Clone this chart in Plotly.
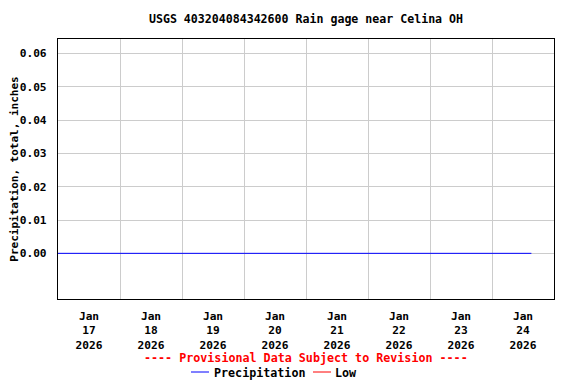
import plotly.graph_objects as go

# Data
precip_times = ["2026-01-17 00:00", "2026-01-24 15:15"]
precip_values = [0.0, 0.0]
low_times = [None]
low_values = [None]

day_labels = ["Jan<br>17<br>2026", "Jan<br>18<br>2026", "Jan<br>19<br>2026", "Jan<br>20<br>2026",
              "Jan<br>21<br>2026", "Jan<br>22<br>2026", "Jan<br>23<br>2026", "Jan<br>24<br>2026"]
label_positions = ["2026-01-17 12:00", "2026-01-18 12:00", "2026-01-19 12:00", "2026-01-20 12:00",
                   "2026-01-21 12:00", "2026-01-22 12:00", "2026-01-23 12:00", "2026-01-24 12:00"]
y_ticks = [0.00, 0.01, 0.02, 0.03, 0.04, 0.05, 0.06]
y_tick_text = ["0.00", "0.01", "0.02", "0.03", "0.04", "0.05", "0.06"]

FONT = "DejaVu Sans Mono"
OFF = 8  # page body margin; reference pixel coords are shifted by this
W, H = 576 - OFF, 384 - OFF
L, R, T, B = 58 - OFF, 576 - 554, 39 - OFF, 384 - 299
PW, PH = W - L - R, H - T - B


def px_x(x):
    return (x - OFF - L) / PW


def px_y(y):
    return (H - B - (y - OFF)) / PH


fig = go.Figure()
fig.add_trace(go.Scatter(x=precip_times, y=precip_values, mode="lines",
                         line=dict(color="#0000ff", width=1), name="Precipitation", showlegend=False))
fig.add_trace(go.Scatter(x=low_times, y=low_values, mode="lines",
                         line=dict(color="#ff0000", width=1), name="Low", showlegend=False))

legend_items = [("Precipitation", "#0000ff", 191, 209, 214), ("Low", "#ff0000", 313, 331, 335)]
shapes = []
annotations = [dict(text="<b>---- Provisional Data Subject to Revision ----</b>",
                    x=px_x(305.5), xref="paper", xanchor="center",
                    y=px_y(358), yref="paper", yanchor="middle",
                    showarrow=False, font=dict(family=FONT, size=11.7, color="#ff0000"))]
for name, color, x0, x1, xt in legend_items:
    shapes.append(dict(type="line", xref="paper", yref="paper",
                       x0=px_x(x0), x1=px_x(x1), y0=px_y(372), y1=px_y(372),
                       line=dict(color=color, width=1)))
    annotations.append(dict(text="<b>" + name + "</b>", x=px_x(xt), xref="paper", xanchor="left",
                            y=px_y(373), yref="paper", yanchor="middle", showarrow=False,
                            xshift=-2,
                            font=dict(family=FONT, size=11.7, color="black")))

fig.update_layout(
    width=W, height=H,
    margin=dict(l=L, r=R, t=T, b=B),
    paper_bgcolor="white", plot_bgcolor="white",
    font=dict(family=FONT, size=11, color="black"),
    title=dict(text="<b>USGS 403204084342600 Rain gage near Celina OH</b>",
               x=(306 - OFF) / W, xanchor="center", y=1 - (19 - OFF) / H, yanchor="middle",
               font=dict(family=FONT, size=11.6, color="black")),
    showlegend=False,
    shapes=shapes,
    annotations=annotations,
)

fig.update_xaxes(
    type="date", automargin=False,
    range=["2026-01-17 00:00", "2026-01-25 00:00"],
    tickmode="array", tickvals=label_positions,
    ticktext=["<b>" + t.replace("<br>", "</b><br><b>") + "</b>" for t in day_labels],
    showgrid=False, ticks="", ticklabelstandoff=6,
    minor=dict(tickmode="linear", tick0="2026-01-17 00:00", dtick=86400000,
               showgrid=True, gridcolor="#cccccc", gridwidth=1, ticks=""),
    showline=True, linecolor="black", linewidth=1.3, mirror=True,
    zeroline=False, tickfont=dict(family=FONT, size=11.2, color="black"),
)
fig.update_yaxes(
    range=[-0.0137, 0.0643], automargin=False,
    tickmode="array", tickvals=y_ticks, ticktext=["<b>" + t + "</b>" for t in y_tick_text],
    showgrid=True, gridcolor="#cccccc", gridwidth=1,
    showline=True, linecolor="black", linewidth=1.3, mirror=True,
    zeroline=False, ticks="", ticklabelstandoff=8,
    tickfont=dict(family=FONT, size=11.2, color="black"),
    title=dict(text="<b>Precipitation, total, inches</b>", standoff=4,
               font=dict(family=FONT, size=11, color="black")),
)

fig.write_html("out.html")
